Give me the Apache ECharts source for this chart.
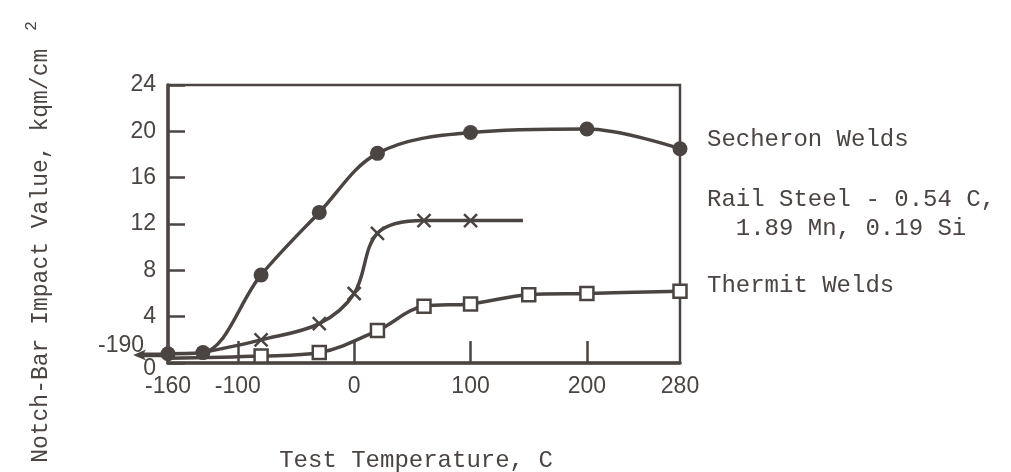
<!DOCTYPE html>
<html>
<head>
<meta charset="utf-8">
<script src="https://cdn.jsdelivr.net/npm/echarts@6/dist/echarts.min.js"></script>
<style>html,body{margin:0;padding:0;background:#fff;}#c{width:1011px;height:472px;}</style>
</head>
<body>
<div id="c"></div>
<script>
// ---- data ----
const secheronX = [-160, -130, -80, -30, 20, 100, 200, 280];
const secheronY = [0.8, 0.9, 7.6, 13.0, 18.1, 19.9, 20.2, 18.5];
const railX = [-130, -80, -30, 0, 20, 60, 100, 145];
const railY = [0.9, 2.0, 3.4, 6.0, 11.2, 12.3, 12.3, 12.3];
const thermitX = [-160, -80, -30, 20, 60, 100, 150, 200, 280];
const thermitY = [0.4, 0.6, 0.9, 2.8, 4.9, 5.1, 5.9, 6.0, 6.2];
const offAxisX = -190;                     // first point lies off the axis, arrow pointing to -190
const offAxisY = 0.7;
const xLabelValues = [-160, -100, 0, 100, 200, 280];
const xTickValues = [-100, 0, 100, 200];
const seriesNames = ['Secheron Welds', 'Rail Steel - 0.54 C, 1.89 Mn, 0.19 Si', 'Thermit Welds'];

const INK = '#4a4542';
const SANS = 'Liberation Sans';
const MONO = 'Liberation Mono';
const crossPath = 'path://M0,0L10,10M10,0L0,10';
const longArrow = 'path://M0,5 L13,0.5 L11,3 L36,3 L36,7 L11,7 L13,9.5 Z';

function pts(xs, ys, skipFirst, skipLast) {
  return xs.map((x, i) => {
    const d = { value: [x, ys[i]] };
    if ((skipFirst && i === 0) || (skipLast && i === xs.length - 1)) d.symbol = 'none';
    return d;
  });
}

const chart = echarts.init(document.getElementById('c'), null, { renderer: 'canvas' });
chart.setOption({
  backgroundColor: '#ffffff',
  animation: false,
  grid: { left: 168, right: 331, top: 85, bottom: 109, show: true, borderColor: INK, borderWidth: 2.5, backgroundColor: 'transparent', containLabel: false, outerBoundsMode: 'none' },
  xAxis: {
    type: 'value', min: -160, max: 280,
    name: 'Test Temperature, C', nameLocation: 'middle', nameGap: 86,
    nameTextStyle: { fontFamily: MONO, fontSize: 24, color: INK, padding: [0, 16, 0, 0] },
    axisLine: { show: true, onZero: false, lineStyle: { color: INK, width: 3.5 } },
    axisTick: { show: true, inside: true, length: 22, customValues: xTickValues, lineStyle: { color: INK, width: 2.5 } },
    axisLabel: { customValues: xLabelValues, margin: 12, fontFamily: SANS, fontSize: 23, color: INK },
    splitLine: { show: false }
  },
  yAxis: {
    type: 'value', min: 0, max: 24, interval: 4,
    name: 'Notch-Bar Impact Value, kqm/cm{sup|2}', nameLocation: 'middle', nameGap: 110,
    nameTextStyle: { fontFamily: MONO, fontSize: 23, color: INK, padding: [0, 36, 0, 0],
      rich: { sup: { fontFamily: MONO, fontSize: 16, color: INK, verticalAlign: 'bottom', padding: [0, 0, 18, 18] } } },
    axisLine: { show: true, onZero: false, lineStyle: { color: INK, width: 3.5 } },
    axisTick: { show: true, inside: true, length: 17, lineStyle: { color: INK, width: 2.5 } },
    axisLabel: { margin: 12, fontFamily: SANS, fontSize: 23, color: INK,
      formatter: v => v === 0 ? '{z|0}' : String(v),
      rich: { z: { fontFamily: SANS, fontSize: 23, color: INK, padding: [12, 0, 0, 0] } } },
    splitLine: { show: false }
  },
  series: [
    {
      name: 'off-axis arrow', type: 'scatter', clip: false, silent: true, z: 3,
      data: [[offAxisX, offAxisY]],
      symbol: longArrow, symbolSize: [36, 11], symbolOffset: ['50%', 0],
      itemStyle: { color: INK, opacity: 1 },
      label: { show: true, formatter: String(offAxisX), position: 'inside', offset: [-30, -9], fontFamily: SANS, fontSize: 23, color: INK, opacity: 1 }
    },
    {
      name: seriesNames[0], type: 'line', smooth: 0.35, clip: false,
      data: pts(secheronX, secheronY, false, false),
      symbol: 'circle', symbolSize: 15,
      lineStyle: { color: INK, width: 3.5 }, itemStyle: { color: INK }
    },
    {
      name: seriesNames[1], type: 'line', smooth: 0.35, clip: false,
      data: pts(railX, railY, true, true),
      symbol: crossPath, symbolSize: 13,
      lineStyle: { color: INK, width: 3.5 },
      itemStyle: { color: INK, borderColor: INK, borderWidth: 2.5 }
    },
    {
      name: seriesNames[2], type: 'line', smooth: 0.35, clip: false,
      data: pts(thermitX, thermitY, true, false),
      symbol: 'rect', symbolSize: 13,
      lineStyle: { color: INK, width: 3.5 },
      itemStyle: { color: '#ffffff', borderColor: INK, borderWidth: 2.5 }
    }
  ],
  graphic: [
    { type: 'text', left: 707, top: 128, style: { text: 'Secheron Welds', font: '24px "Liberation Mono"', fill: INK } },
    { type: 'text', left: 707, top: 185, style: { text: 'Rail Steel - 0.54 C,\n  1.89 Mn, 0.19 Si', font: '24px "Liberation Mono"', fill: INK, lineHeight: 29 } },
    { type: 'text', left: 707, top: 274, style: { text: 'Thermit Welds', font: '24px "Liberation Mono"', fill: INK } }
  ]
});
</script>
</body>
</html>
